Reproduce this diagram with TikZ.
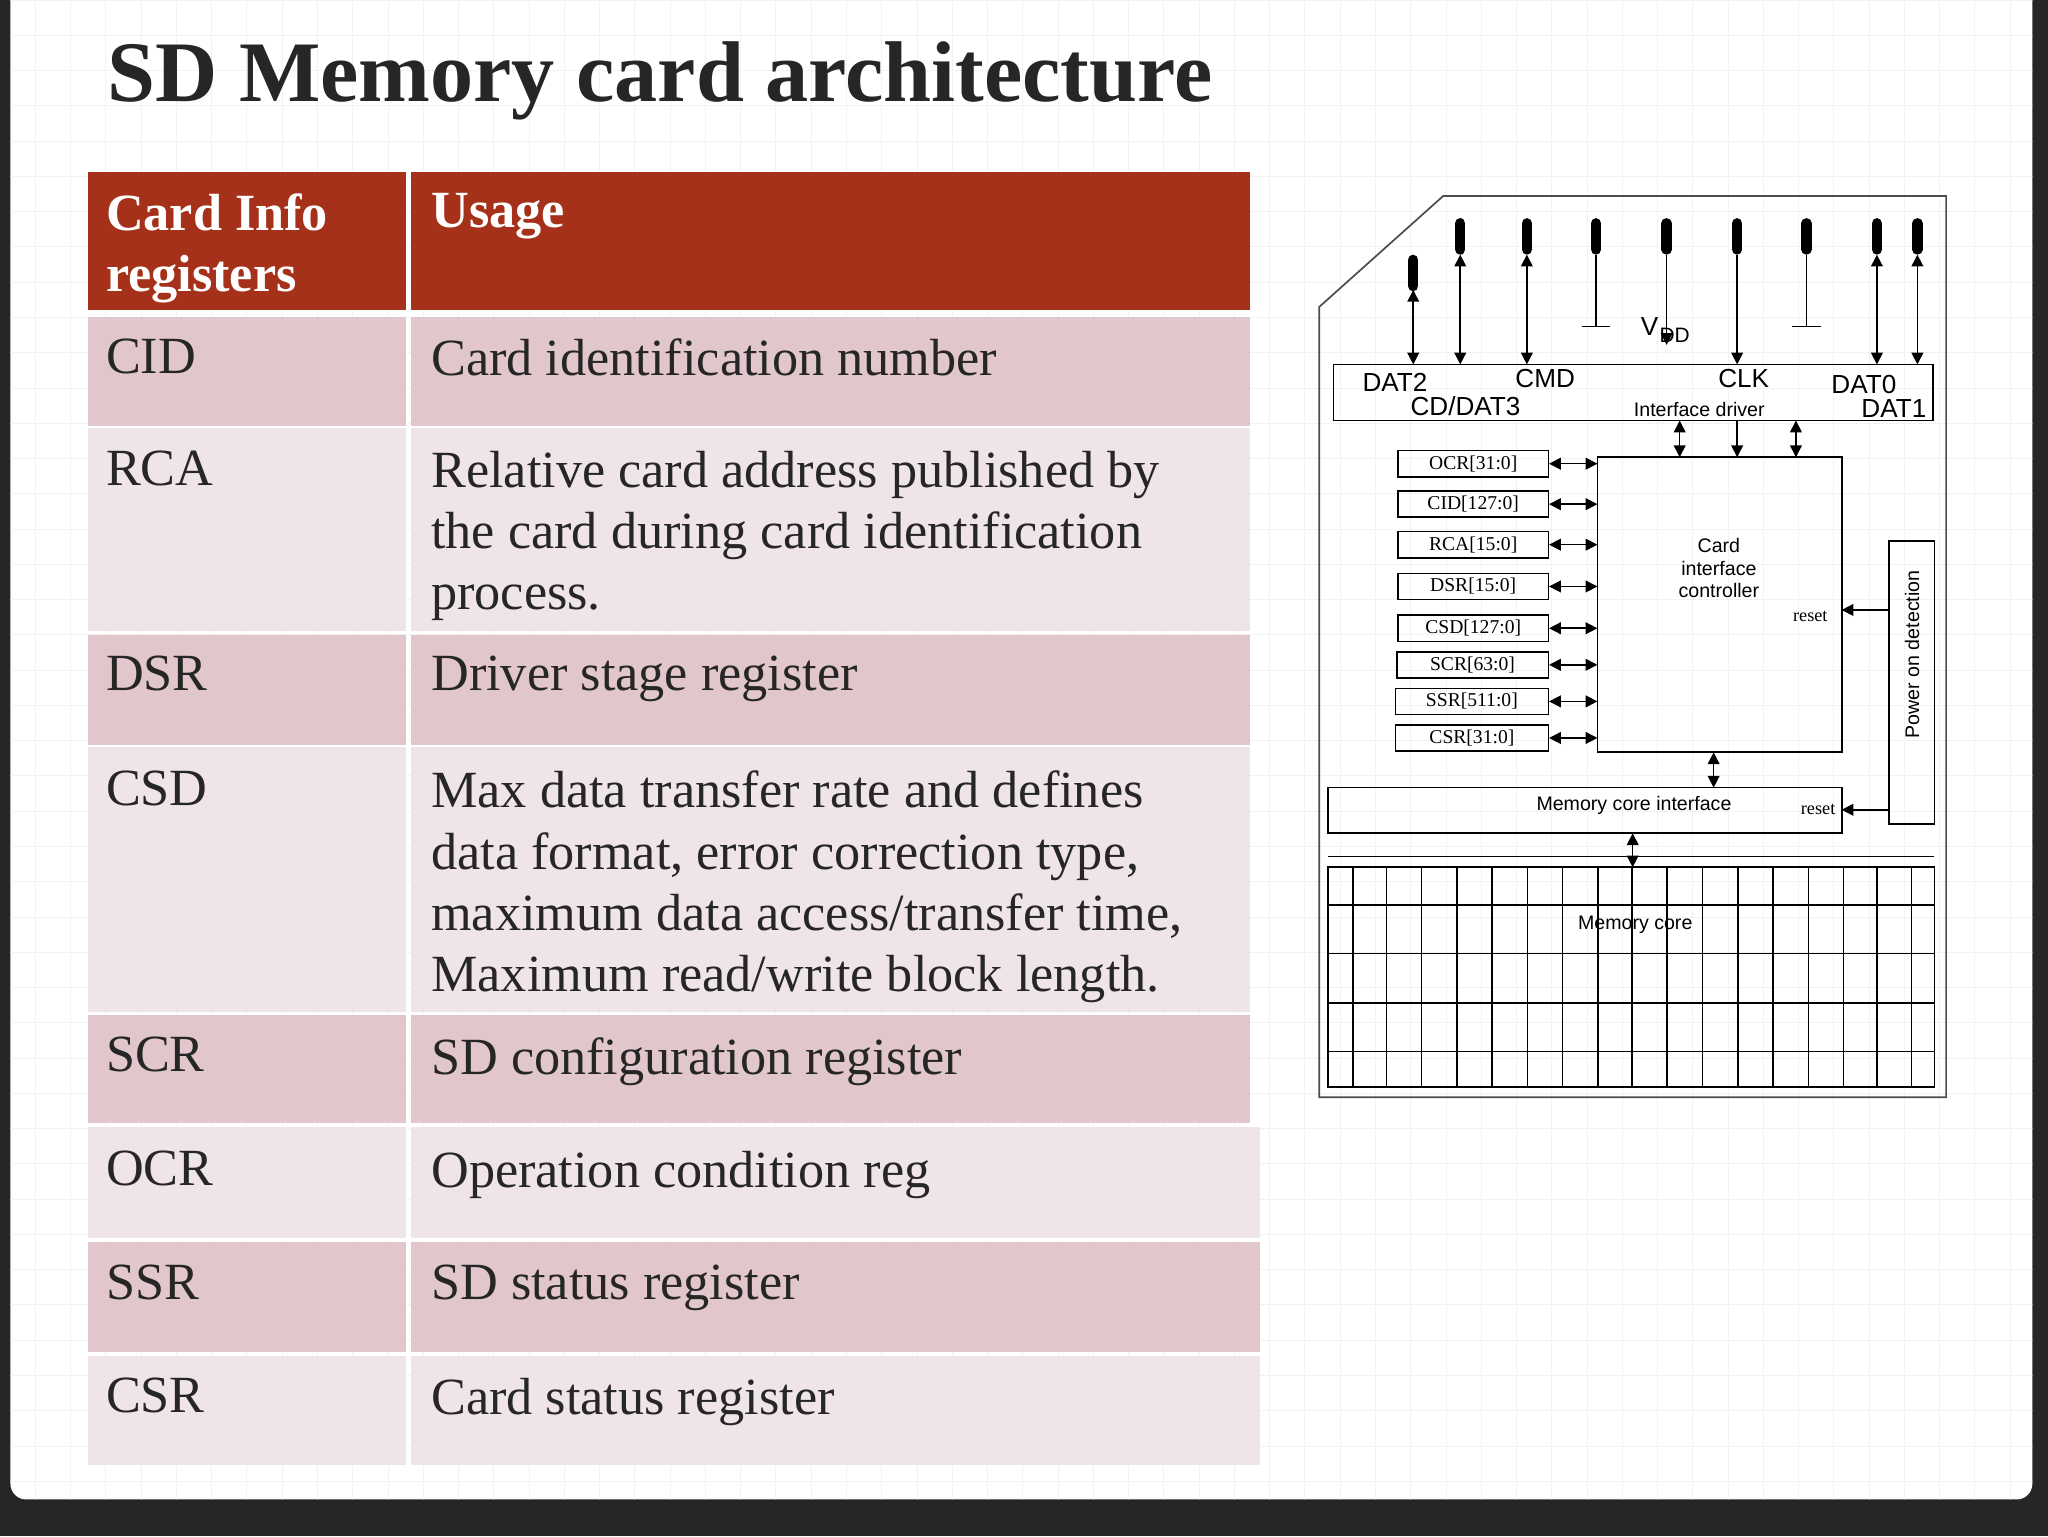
\documentclass[tikz,border=0pt]{standalone}
\usepackage{fontspec}
\setmainfont{Liberation Serif}
\newfontfamily\sans{Liberation Sans}
\usetikzlibrary{arrows.meta}
\begin{document}
\begin{tikzpicture}[x=1pt,y=-1pt,
  hdr/.style={fill=hdrc,draw=none},
  rowd/.style={fill=rowdc,draw=none},
  rowl/.style={fill=rowlc,draw=none},
  ttext/.style={anchor=north west,inner sep=0pt,font=\fontsize{40}{47}\selectfont,align=left,text=black!85},
  htext/.style={anchor=north west,inner sep=0pt,font=\fontsize{40}{47}\selectfont\bfseries,align=left,text=white},
  bx/.style={draw=black,line width=1.3pt},
  reg/.style={draw=black,line width=1.2pt,minimum width=115pt,minimum height=20pt,inner sep=0pt,font=\fontsize{15}{15}\selectfont},
  sl/.style={font=\sans\fontsize{20}{20}\selectfont,inner sep=0pt},
  ss/.style={font=\sans\fontsize{15}{17}\selectfont,inner sep=0pt,align=center},
  bi/.style={{Triangle[width=9pt,length=9pt]}-{Triangle[width=9pt,length=9pt]},line width=1.2pt},
  ar/.style={-{Triangle[width=9pt,length=9pt]},line width=1.2pt},
  pin/.style={line width=8pt,line cap=round}]
\definecolor{hdrc}{HTML}{A6311A}
\definecolor{rowdc}{HTML}{E1C7CC}
\definecolor{rowlc}{HTML}{EFE4E7}
\useasboundingbox (0,0) rectangle (1568,1176);
\fill[black!85] (0,0) rectangle (1568,1176);
\fill[white,rounded corners=12pt] (8,-20) rectangle (1556,1148);
\begin{scope}
\clip[rounded corners=12pt] (8,-20) rectangle (1556,1148);
\foreach \i in {0,27,...,1560} \draw[black!5,line width=0.6pt] (\i,0) -- (\i,1150);
\foreach \j in {0,27,...,1150} \draw[black!5,line width=0.6pt] (0,\j) -- (1560,\j);
\end{scope}
% title
\node[anchor=base west,inner sep=0pt,font=\fontsize{66}{66}\selectfont\bfseries,text=black!85] (title) at (82,78) {SD Memory card architecture};
% table
\fill[hdr] (67,132) rectangle (311,237); \fill[hdr] (315,132) rectangle (957,237);
\foreach \a/\b/\s/\r in {243/326/rowd/957,328/483/rowl/957,486/570/rowd/957,572/775/rowl/957,777/860/rowd/957,863/948/rowl/965,951/1035/rowd/965,1038/1122/rowl/965}{
  \fill[\s] (67,\a) rectangle (311,\b); \fill[\s] (315,\a) rectangle (\r,\b);}
\node[htext] (h1) at (81,148) {Card Info\\registers};
\node[htext] (h2) at (330,148) {Usage};
\node[ttext] (c1) at (81,259) {CID};
\node[ttext] (u1) at (330,259) {Card identification number};
\node[ttext] (c2) at (81,345) {RCA};
\node[ttext] (u2) at (330,345) {Relative card address published by\\the card during card identification\\process.};
\node[ttext] (c3) at (81,502) {DSR};
\node[ttext] (u3) at (330,502) {Driver stage register};
\node[ttext] (c4) at (81,590) {CSD};
\node[ttext] (u4) at (330,590) {Max data transfer rate and defines\\data format, error correction type,\\maximum data access/transfer time,\\Maximum read/write block length.};
\node[ttext] (c5) at (81,794) {SCR};
\node[ttext] (u5) at (330,794) {SD configuration register};
\node[ttext] (c6) at (81,881) {OCR};
\node[ttext] (u6) at (330,881) {Operation condition reg};
\node[ttext] (c7) at (81,968) {SSR};
\node[ttext] (u7) at (330,968) {SD status register};
\node[ttext] (c8) at (81,1055) {CSR};
\node[ttext] (u8) at (330,1055) {Card status register};
% diagram
\draw[line width=1.3pt,black!70] (1010,235) -- (1105,150) -- (1490,150) -- (1490,840) -- (1010,840) -- cycle;
\draw[bx] (1021,279) rectangle (1480,322);
% pins
\foreach \x/\t in {1082/199,1118/171,1169/171,1222/171,1276/171,1330/171,1383/171,1437/171,1468/171}
  \draw[pin] (\x,\t) -- (\x,\t+20);
\foreach \x/\t in {1082/222,1118/195,1169/195,1437/195,1468/195}
  \draw[bi] (\x,\t) -- (\x,279);
\draw[ar] (1330,195) -- (1330,279);
\draw[ar] (1276,195) -- (1276,264);
\foreach \x in {1222,1383}{\draw[line width=1.2pt] (\x,195) -- (\x,250); \draw[line width=1.4pt] (\x-11,250) -- (\x+11,250);}
\node[sl,anchor=base west] (vdd) at (1256,257) {V\kern1pt\raisebox{-5pt}{\fontsize{16}{16}\selectfont DD}};
\node[sl,anchor=base] (dat2) at (1068,300) {DAT2};
\node[sl,anchor=base] (cd) at (1122,318) {CD/DAT3};
\node[sl,anchor=base] (cmd) at (1183,297) {CMD};
\node[sl,anchor=base] (clk) at (1335,297) {CLK};
\node[ss,anchor=base] (idrv) at (1301,319) {Interface driver};
\node[sl,anchor=base] (dat0) at (1427,301) {DAT0};
\node[sl,anchor=base] (dat1) at (1450,320) {DAT1};
% controller
\draw[bx] (1223,350) rectangle (1410,576);
\node[ss] (cic) at (1316,435) {Card\\interface\\controller};
\node[font=\fontsize{14}{14}\selectfont,inner sep=0pt] (rst1) at (1386,472) {reset};
\draw[bi] (1286,322) -- (1286,350);
\draw[ar] (1330,322) -- (1330,350);
\draw[bi] (1375,322) -- (1375,350);
\foreach \y/\t/\w in {355/OCR[31:0]/115,386/CID[127:0]/115,417/RCA[15:0]/115,449/DSR[15:0]/115,481/CSD[127:0]/115,509/SCR[63:0]/116,537/SSR[511:0]/117,565/CSR[31:0]/117}{
  \node[reg,minimum width=\w pt,anchor=east] (r\y) at (1186,\y) {\t};
  \draw[bi] (r\y.east) -- (1223,\y);}
% power on detection
\draw[bx] (1446,414) rectangle (1481,631);
\node[ss,rotate=90] (pod) at (1464,501) {Power on detection};
\draw[ar] (1446,467) -- (1410,467);
% memory core interface
\draw[bx] (1017,603) rectangle (1410,638);
\node[ss] (mci) at (1251,617) {Memory core interface};
\node[font=\fontsize{14}{14}\selectfont,inner sep=0pt] (rst2) at (1392,620) {reset};
\draw[ar] (1446,620) -- (1410,620);
\draw[bi] (1312,576) -- (1312,603);
\draw[bi] (1250,638) -- (1250,664);
\draw[line width=1pt] (1017,656) -- (1481,656);
% memory core grid
\draw[bx] (1017,664) rectangle (1481,832);
\foreach \y in {693,730,768,805} \draw[line width=1.2pt] (1017,\y) -- (1481,\y);
\foreach \zx in {105,185,270,355,440,525,610,695,778,862,948,1033,1118,1203,1288,1368,1452}
  \draw[line width=1.2pt] ({1017+(\zx-45)/1462*464},664) -- ({1017+(\zx-45)/1462*464},832);
\node[ss] (mc) at (1252,708) {Memory core};
\end{tikzpicture}
\end{document}
